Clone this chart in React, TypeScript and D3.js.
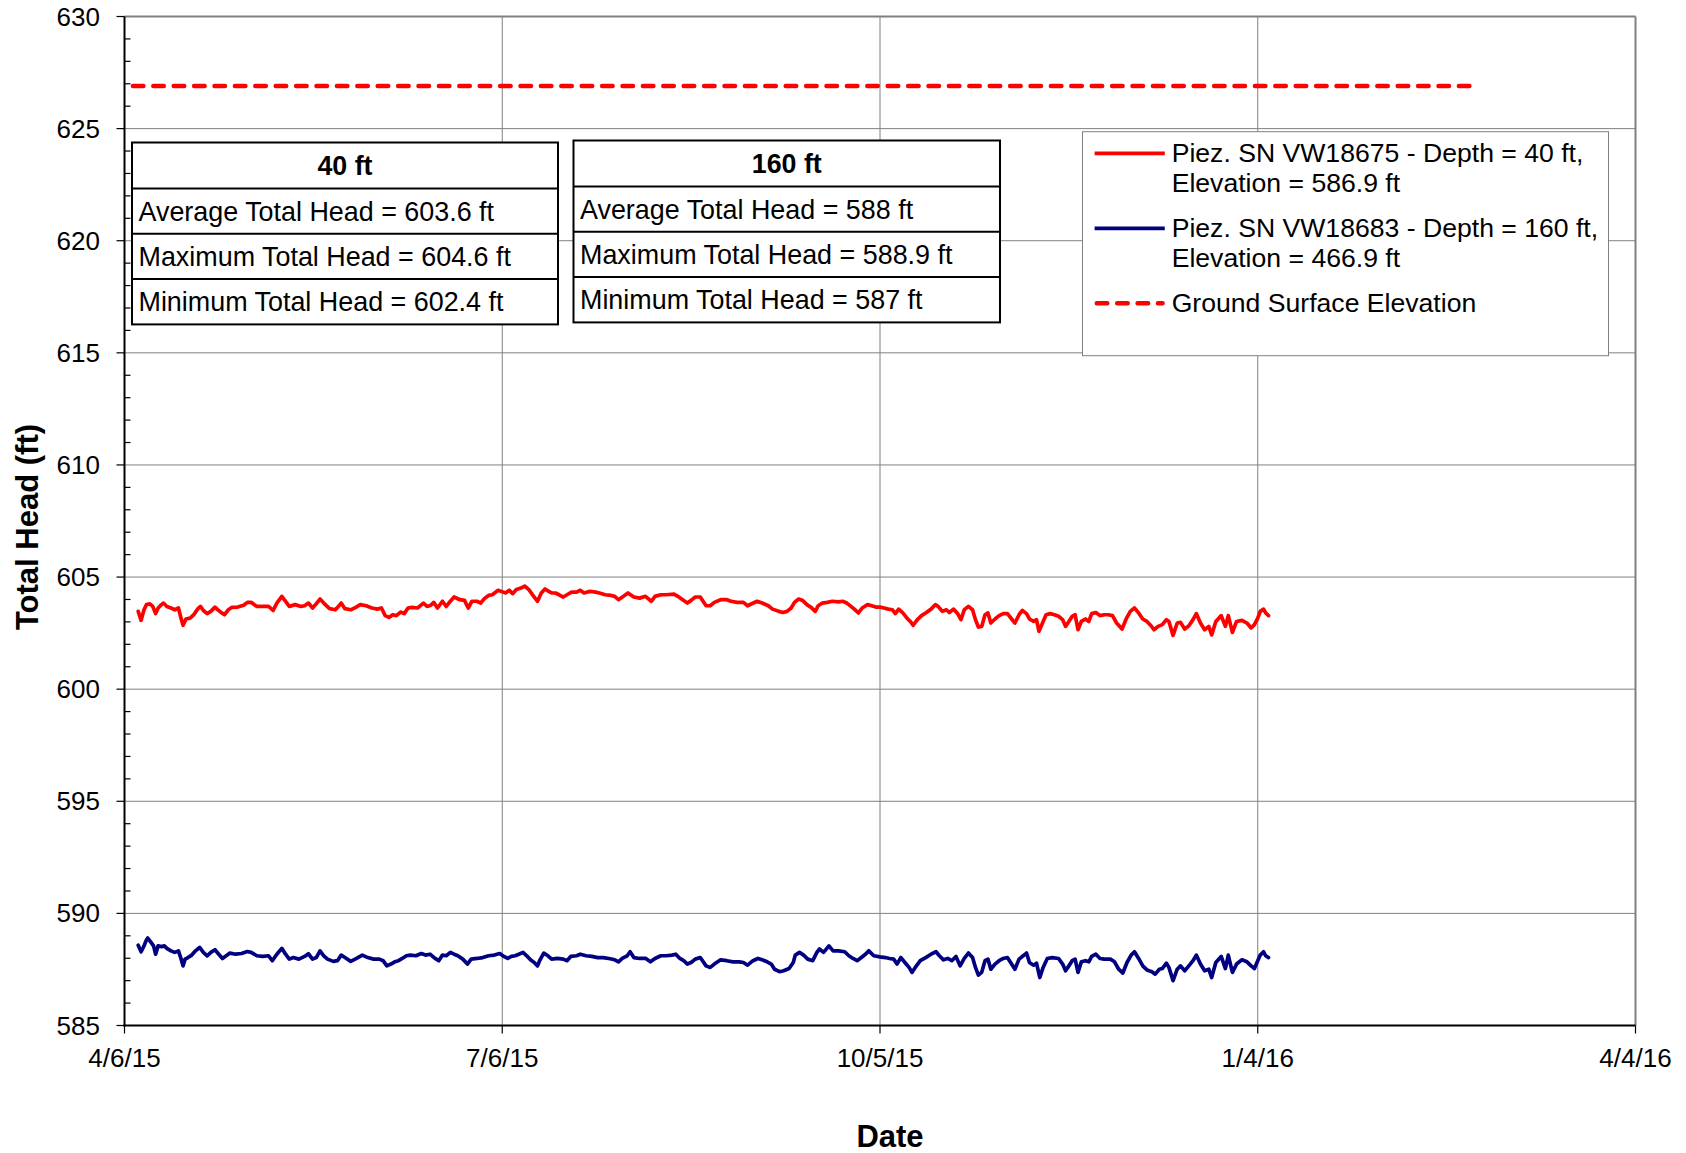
import React from "react";
import * as d3 from "d3";

// ---- axis definitions ----
const AXIS_START = "2015-04-06";
const AXIS_END = "2016-04-04";
const xTickDates = ["2015-04-06", "2015-07-06", "2015-10-05", "2016-01-04", "2016-04-04"];
const xTickLabels = ["4/6/15", "7/6/15", "10/5/15", "1/4/16", "4/4/16"];
const yMin = 585;
const yMax = 630;
const yMajorStep = 5;
const yMinorStep = 1;

// ---- ground surface reference ----
const groundElevation = 626.9;
const groundDates = ["2015-04-06", "2016-02-26"];

// ---- piezometer readings: [days since 4/6/15, total head (ft)] ----
const shallowReadings: [number, number][] = [
  [3.3,603.47],[4.0,603.07],[4.7,603.54],[5.3,603.77],[6.1,603.81],[6.8,603.69],[7.5,603.37],[8.1,603.62],[8.9,603.77],[9.4,603.84],
  [10.2,603.69],[11.2,603.62],[12.1,603.54],[13.0,603.62],[13.6,603.17],[14.1,602.85],[14.8,603.13],[15.8,603.17],[16.7,603.32],[17.6,603.57],
  [18.3,603.69],[19.0,603.51],[19.9,603.37],[20.8,603.47],[21.8,603.66],[22.5,603.54],[23.4,603.40],[24.1,603.32],[25.0,603.54],[25.9,603.65],
  [27.3,603.66],[28.7,603.74],[29.6,603.87],[30.5,603.87],[31.9,603.69],[33.3,603.69],[34.7,603.69],[35.8,603.51],[36.7,603.84],[37.9,604.14],
  [38.8,603.92],[39.7,603.69],[41.1,603.77],[42.5,603.69],[43.4,603.72],[44.3,603.84],[45.3,603.62],[46.2,603.81],[47.1,604.02],[48.0,603.84],
  [49.4,603.59],[50.8,603.54],[51.4,603.66],[52.2,603.84],[53.1,603.59],[54.5,603.54],[55.7,603.65],[56.8,603.77],[58.2,603.72],[59.6,603.62],
  [60.9,603.57],[61.9,603.62],[62.8,603.28],[63.7,603.20],[64.6,603.32],[65.5,603.28],[66.5,603.44],[67.4,603.37],[68.3,603.62],[69.2,603.65],
  [70.6,603.62],[72.0,603.84],[72.9,603.69],[73.8,603.74],[74.5,603.87],[75.4,603.62],[76.6,603.92],[77.5,603.69],[78.5,603.92],[79.4,604.11],
  [80.8,603.99],[81.9,603.96],[82.8,603.62],[83.7,603.92],[84.9,603.92],[85.8,603.84],[86.8,604.06],[87.7,604.18],[88.6,604.21],[90.0,604.41],
  [90.9,604.35],[91.8,604.29],[92.7,604.41],[93.5,604.26],[94.4,604.44],[95.5,604.51],[96.4,604.6],[97.4,604.44],[98.3,604.21],[99.5,603.92],
  [100.4,604.29],[101.3,604.47],[102.2,604.36],[102.9,604.29],[103.8,604.29],[104.7,604.21],[105.7,604.11],[106.6,604.21],[107.7,604.33],[108.9,604.33],
  [109.8,604.41],[110.7,604.29],[112.1,604.36],[113.5,604.33],[114.4,604.29],[115.8,604.21],[117.2,604.18],[118.1,604.14],[119.0,603.99],[120.2,604.14],
  [121.3,604.29],[122.7,604.11],[124.1,604.06],[125.5,604.14],[126.9,603.92],[127.8,604.14],[129.2,604.21],[130.5,604.21],[132.4,604.24],[133.3,604.14],
  [134.2,604.02],[135.6,603.84],[136.5,603.96],[137.5,604.11],[138.7,604.11],[140.1,603.72],[141.1,603.72],[142.1,603.87],[143.6,603.99],[145.1,603.99],
  [146.1,603.92],[147.6,603.87],[149.1,603.87],[150.1,603.72],[151.1,603.81],[152.4,603.92],[153.6,603.84],[155.1,603.72],[156.1,603.57],[157.6,603.47],
  [158.6,603.42],[159.6,603.47],[160.6,603.62],[161.4,603.87],[162.4,604.02],[163.4,603.95],[164.4,603.77],[165.4,603.65],[166.4,603.47],[167.1,603.72],
  [168.1,603.84],[169.3,603.87],[170.5,603.92],[172.0,603.89],[173.0,603.92],[174.0,603.84],[175.0,603.69],[176.0,603.54],[176.8,603.40],[177.7,603.62],
  [179.0,603.77],[180.0,603.72],[181.0,603.66],[182.0,603.66],[183.0,603.62],[184.0,603.57],[185.0,603.54],[185.7,603.37],[186.5,603.57],[187.5,603.40],
  [188.5,603.17],[189.3,603.02],[190.0,602.85],[191.0,603.10],[192.0,603.28],[193.0,603.40],[194.3,603.57],[195.3,603.77],[196.0,603.69],[197.0,603.47],
  [198.0,603.54],[198.7,603.42],[199.7,603.57],[200.7,603.37],[201.5,603.10],[202.3,603.54],[203.3,603.69],[204.3,603.54],[205.0,603.10],[205.7,602.77],
  [206.5,602.80],[207.3,603.32],[208.0,603.40],[208.7,602.95],[209.7,603.13],[210.7,603.28],[211.7,603.37],[212.7,603.37],[213.7,603.13],[214.5,602.95],
  [215.5,603.32],[216.3,603.51],[217.3,603.37],[218.0,603.13],[219.0,603.02],[219.7,603.10],[220.3,602.58],[221.0,602.88],[222.0,603.32],[223.0,603.37],
  [224.0,603.32],[225.0,603.25],[226.0,603.10],[226.7,602.80],[227.5,603.02],[228.3,603.25],[229.0,603.32],[229.7,602.65],[230.5,603.02],[231.5,603.13],
  [232.3,603.02],[233.0,603.37],[234.0,603.42],[235.0,603.28],[236.0,603.32],[237.0,603.32],[238.0,603.28],[239.0,602.95],[240.3,602.68],[241.3,603.13],
  [242.3,603.47],[243.3,603.62],[244.3,603.40],[245.3,603.13],[246.3,603.02],[247.3,602.83],[248.0,602.65],[249.0,602.80],[250.0,602.88],[251.0,603.10],
  [251.6,603.02],[252.6,602.4],[253.6,602.95],[254.4,602.98],[255.4,602.68],[256.4,602.83],[257.4,603.10],[258.2,603.37],[259.2,602.95],[260.2,602.65],
  [261.2,602.80],[261.9,602.42],[262.9,603.02],[264.2,603.28],[265.2,602.80],[265.9,603.28],[266.9,602.53],[267.9,603.02],[269.2,603.07],[270.4,602.95],
  [271.4,602.73],[272.2,602.88],[273.0,603.17],[273.6,603.47],[274.4,603.57],[274.9,603.40],[275.6,603.28],
];

const deepReadings: [number, number][] = [
  [3.3,588.58],[4.0,588.29],[4.7,588.55],[5.2,588.78],[5.6,588.9],[6.3,588.73],[7.0,588.55],[7.5,588.18],[8.1,588.55],[8.9,588.52],
  [9.6,588.55],[10.2,588.44],[11.2,588.33],[12.1,588.26],[13.0,588.33],[13.6,587.99],[14.1,587.66],[14.6,587.96],[15.3,588.03],[16.2,588.14],
  [17.1,588.33],[18.1,588.48],[19.0,588.26],[19.9,588.11],[20.8,588.26],[21.8,588.38],[22.7,588.18],[23.6,587.99],[24.5,588.11],[25.4,588.23],
  [26.8,588.18],[28.2,588.21],[29.6,588.30],[30.5,588.26],[31.9,588.11],[33.3,588.08],[34.7,588.11],[35.6,587.89],[36.7,588.18],[37.9,588.44],
  [38.8,588.18],[39.7,587.96],[40.7,588.03],[42.0,587.96],[43.4,588.08],[44.3,588.20],[45.3,587.96],[46.2,588.03],[47.1,588.33],[48.0,588.11],
  [48.9,587.96],[50.3,587.86],[51.3,587.89],[52.2,588.14],[53.1,588.03],[54.5,587.86],[55.9,587.99],[57.3,588.14],[58.6,588.03],[60.0,587.96],
  [61.4,587.96],[62.3,587.89],[63.2,587.66],[64.2,587.74],[65.1,587.84],[66.0,587.89],[66.9,587.99],[67.9,588.11],[68.8,588.14],[70.2,588.11],
  [71.5,588.21],[72.5,588.14],[73.6,588.18],[74.8,587.99],[75.7,587.89],[76.6,588.14],[77.5,588.11],[78.5,588.26],[79.4,588.18],[80.3,588.11],
  [81.5,587.96],[82.6,587.74],[83.5,587.96],[84.9,587.99],[86.3,588.03],[87.7,588.11],[89.1,588.14],[90.4,588.21],[91.4,588.08],[92.3,587.99],
  [93.2,588.08],[94.1,588.11],[95.0,588.18],[96.0,588.26],[96.9,588.11],[97.8,587.93],[98.7,587.81],[99.5,587.66],[100.1,587.93],[101.0,588.23],
  [102.0,588.11],[102.9,587.96],[104.3,587.99],[105.7,587.96],[106.6,587.89],[107.5,588.08],[108.9,588.11],[109.8,588.18],[111.2,588.11],[112.6,588.08],
  [114.0,588.03],[115.3,588.03],[116.7,587.99],[118.1,587.93],[119.0,587.84],[119.9,587.99],[121.1,588.11],[121.8,588.29],[122.7,588.03],[124.1,587.99],
  [125.5,588.00],[126.7,587.84],[127.8,587.99],[129.2,588.11],[130.5,588.11],[131.9,588.14],[132.8,588.18],[133.8,587.99],[134.7,587.89],[135.6,587.74],
  [136.5,587.81],[137.5,587.96],[138.7,588.03],[140.1,587.66],[141.1,587.59],[142.1,587.74],[143.6,587.93],[145.1,587.89],[146.6,587.84],[148.1,587.84],
  [149.1,587.81],[150.1,587.69],[151.4,587.89],[152.6,587.99],[153.6,587.93],[154.8,587.84],[155.8,587.74],[156.6,587.51],[157.8,587.40],[158.8,587.44],
  [160.1,587.54],[161.1,587.81],[161.6,588.14],[162.6,588.26],[163.6,588.14],[164.6,587.96],[165.8,587.89],[166.8,588.26],[167.4,588.41],[168.4,588.26],
  [169.7,588.55],[170.7,588.33],[172.0,588.33],[173.5,588.29],[174.5,588.11],[175.5,587.99],[176.5,587.89],[177.5,588.03],[178.5,588.18],[179.3,588.33],
  [180.5,588.11],[182.0,588.06],[183.3,588.03],[184.3,587.99],[185.3,587.96],[186.1,587.74],[187.0,588.03],[188.0,587.81],[189.0,587.59],[189.7,587.37],
  [190.5,587.59],[191.7,587.89],[193.0,588.03],[194.3,588.18],[195.5,588.29],[196.3,588.11],[197.3,587.93],[198.3,587.99],[199.3,587.89],[200.3,588.08],
  [201.3,587.66],[202.3,587.99],[203.3,588.23],[204.3,588.03],[205.0,587.59],[205.7,587.25],[206.5,587.37],[207.3,587.89],[208.0,587.96],[208.7,587.51],
  [209.7,587.74],[210.7,587.89],[211.7,587.99],[212.7,588.03],[213.7,587.74],[214.5,587.51],[215.5,587.96],[216.5,588.11],[217.3,588.23],[218.0,587.81],
  [219.0,587.69],[219.7,587.78],[220.5,587.14],[221.3,587.59],[222.3,587.99],[223.5,588.03],[225.0,587.99],[226.0,587.74],[226.7,587.44],[227.5,587.66],
  [228.3,587.89],[229.0,587.96],[229.7,587.37],[230.5,587.84],[231.5,587.89],[232.3,587.84],[233.0,588.08],[234.0,588.18],[235.0,587.99],[236.0,587.96],
  [237.5,587.96],[238.5,587.84],[239.5,587.51],[240.5,587.34],[241.5,587.81],[242.5,588.14],[243.3,588.29],[244.3,587.99],[245.3,587.66],[246.3,587.48],
  [247.5,587.40],[248.3,587.29],[249.3,587.51],[250.0,587.54],[251.0,587.78],[251.6,587.59],[252.6,587.0],[253.6,587.51],[254.4,587.66],[255.4,587.44],
  [256.4,587.66],[257.4,587.89],[258.2,588.14],[259.2,587.74],[260.2,587.44],[261.2,587.51],[261.9,587.14],[262.9,587.81],[264.2,588.08],[265.2,587.54],
  [265.9,588.14],[266.9,587.37],[267.9,587.74],[269.2,587.93],[270.4,587.84],[271.4,587.66],[272.2,587.54],[273.0,587.89],[273.6,588.14],[274.4,588.29],
  [274.9,588.11],[275.6,588.03],
];

// ---- summary tables ----
const tableTitles = ["40 ft", "160 ft"];
const averageHeads = [603.6, 588];
const maximumHeads = [604.6, 588.9];
const minimumHeads = [602.4, 587];

// ---- legend ----
const legendLabels = [
  ["Piez. SN VW18675 - Depth = 40 ft,", "Elevation = 586.9 ft"],
  ["Piez. SN VW18683 - Depth = 160 ft,", "Elevation = 466.9 ft"],
  ["Ground Surface Elevation"],
];

const SHALLOW_COLOR = "#ff0000";
const DEEP_COLOR = "#000080";
const GROUND_COLOR = "#ff0000";
const GRID_COLOR = "#808080";
const FONT = "'Liberation Sans', Arial, Helvetica, sans-serif";
const SERIES_WIDTH = 3.7;

const W = 1686;
const H = 1153;
const PLOT = { left: 124.5, right: 1635.5, top: 16.5, bottom: 1025.5 };

export default function App() {
  const parse = d3.utcParse("%Y-%m-%d");
  const origin = parse(AXIS_START) as Date;
  const x = d3
    .scaleUtc()
    .domain([origin, parse(AXIS_END) as Date])
    .range([PLOT.left, PLOT.right]);
  const y = d3.scaleLinear().domain([yMin, yMax]).range([PLOT.bottom, PLOT.top]);

  const dayToDate = (d: number) => new Date(origin.getTime() + d * 86400000);
  const seriesLine = d3
    .line<[number, number]>()
    .x((d) => x(dayToDate(d[0])))
    .y((d) => y(d[1]));

  const yMajor = d3.range(yMin, yMax + 0.001, yMajorStep);
  const yMinor = d3.range(yMin, yMax + 0.001, yMinorStep).filter((v) => v % yMajorStep !== 0);
  const xTicks = xTickDates.map((s) => parse(s) as Date);

  const groundPts = groundDates.map((s) => [x(parse(s) as Date), y(groundElevation)]);

  const tables = [
    { x: 132, y: 142.5, w: 426 },
    { x: 573.5, y: 140.5, w: 426.5 },
  ];
  const headerH = 46;
  const rowH = 45.3;
  const fmt = (v: number) => `${v}`;

  const legendBox = { x: 1082.5, y: 131.7, w: 526, h: 224 };
  const legendStyles = [
    { color: SHALLOW_COLOR, dash: undefined as string | undefined },
    { color: DEEP_COLOR, dash: undefined as string | undefined },
    { color: GROUND_COLOR, dash: "10.5 9.9" },
  ];

  return (
    <svg
      width={W}
      height={H}
      viewBox={`0 0 ${W} ${H}`}
      style={{ position: "absolute", left: 0, top: 0, background: "#fff" }}
      fontFamily={FONT}
    >
      <rect x={0} y={0} width={W} height={H} fill="#fff" />

      {/* gridlines */}
      <g stroke={GRID_COLOR} strokeWidth={1}>
        {yMajor
          .filter((v) => v !== yMin && v !== yMax)
          .map((v) => (
            <line key={`hg${v}`} x1={PLOT.left} x2={PLOT.right} y1={y(v)} y2={y(v)} />
          ))}
        {xTicks.slice(1, -1).map((d, i) => (
          <line key={`vg${i}`} x1={x(d)} x2={x(d)} y1={PLOT.top} y2={PLOT.bottom} />
        ))}
      </g>

      {/* plot frame (top and right) */}
      <line x1={PLOT.left} x2={PLOT.right} y1={PLOT.top} y2={PLOT.top} stroke={GRID_COLOR} strokeWidth={2} />
      <line x1={PLOT.right} x2={PLOT.right} y1={PLOT.top} y2={PLOT.bottom} stroke={GRID_COLOR} strokeWidth={2} />

      {/* ground surface elevation */}
      <line
        x1={groundPts[0][0]}
        x2={groundPts[1][0]}
        y1={groundPts[0][1]}
        y2={groundPts[1][1]}
        stroke={GROUND_COLOR}
        strokeWidth={4.5}
        strokeDasharray="10.5 9.9"
        strokeDashoffset={12}
        strokeLinecap="round"
      />

      {/* piezometer series */}
      <path
        d={seriesLine(shallowReadings) ?? ""}
        fill="none"
        stroke={SHALLOW_COLOR}
        strokeWidth={SERIES_WIDTH}
        strokeLinejoin="round"
        strokeLinecap="round"
      />
      <path
        d={seriesLine(deepReadings) ?? ""}
        fill="none"
        stroke={DEEP_COLOR}
        strokeWidth={SERIES_WIDTH}
        strokeLinejoin="round"
        strokeLinecap="round"
      />

      {/* summary tables */}
      {tables.map((t, i) => {
        const rows = [
          `Average Total Head = ${fmt(averageHeads[i])} ft`,
          `Maximum Total Head = ${fmt(maximumHeads[i])} ft`,
          `Minimum Total Head = ${fmt(minimumHeads[i])} ft`,
        ];
        const totalH = headerH + rowH * rows.length;
        return (
          <g key={`tbl${i}`}>
            <rect x={t.x} y={t.y} width={t.w} height={totalH} fill="#fff" stroke="#000" strokeWidth={2} />
            {rows.map((_, r) => (
              <line
                key={`sep${r}`}
                x1={t.x}
                x2={t.x + t.w}
                y1={t.y + headerH + rowH * r}
                y2={t.y + headerH + rowH * r}
                stroke="#000"
                strokeWidth={2}
              />
            ))}
            <text
              x={t.x + t.w / 2}
              y={t.y + 32.5}
              textAnchor="middle"
              fontSize={26.8}
              fontWeight="bold"
              fill="#000"
            >
              {tableTitles[i]}
            </text>
            {rows.map((label, r) => (
              <text
                key={`row${r}`}
                x={t.x + 6.5}
                y={t.y + headerH + rowH * r + 32.3}
                fontSize={26.9}
                fill="#000"
              >
                {label}
              </text>
            ))}
          </g>
        );
      })}

      {/* legend */}
      <g>
        <rect
          x={legendBox.x}
          y={legendBox.y}
          width={legendBox.w}
          height={legendBox.h}
          fill="#fff"
          stroke={GRID_COLOR}
          strokeWidth={1}
        />
        {legendLabels.map((lines, i) => {
          const baseline = legendBox.y + 30.6 + i * 75;
          const st = legendStyles[i];
          return (
            <g key={`leg${i}`}>
              <line
                x1={st.dash ? 1096.8 : 1094.6}
                x2={st.dash ? 1162.6 : 1164.8}
                y1={baseline - 9}
                y2={baseline - 9}
                stroke={st.color}
                strokeWidth={st.dash ? 4.5 : SERIES_WIDTH}
                strokeDasharray={st.dash}
                strokeLinecap={st.dash ? "round" : "butt"}
              />
              {lines.map((txt, k) => (
                <text key={k} x={1171.7} y={baseline + k * 30} fontSize={26.6} fill="#000">
                  {txt}
                </text>
              ))}
            </g>
          );
        })}
      </g>

      {/* axes */}
      <line x1={PLOT.left} x2={PLOT.left} y1={PLOT.top} y2={PLOT.bottom + 1} stroke="#000" strokeWidth={2} />
      <line x1={PLOT.left - 1} x2={PLOT.right} y1={PLOT.bottom} y2={PLOT.bottom} stroke="#000" strokeWidth={2} />

      <g stroke="#000" strokeWidth={1.2}>
        {yMajor.map((v) => (
          <line key={`ymaj${v}`} x1={PLOT.left - 8} x2={PLOT.left} y1={y(v)} y2={y(v)} />
        ))}
        {yMinor.map((v) => (
          <line key={`ymin${v}`} x1={PLOT.left} x2={PLOT.left + 6} y1={y(v)} y2={y(v)} />
        ))}
        {xTicks.map((d, i) => (
          <line key={`xt${i}`} x1={x(d)} x2={x(d)} y1={PLOT.bottom} y2={PLOT.bottom + 8} />
        ))}
      </g>

      <g fontSize={26} fill="#000">
        {yMajor.map((v) => (
          <text key={`yl${v}`} x={100} y={y(v) + 9} textAnchor="end">
            {v}
          </text>
        ))}
        {xTicks.map((d, i) => (
          <text key={`xl${i}`} x={x(d)} y={1067.3} textAnchor="middle">
            {xTickLabels[i]}
          </text>
        ))}
      </g>

      {/* axis titles */}
      <text
        transform={`translate(37.5, 527) rotate(-90)`}
        textAnchor="middle"
        fontSize={31}
        fontWeight="bold"
        fill="#000"
      >
        Total Head (ft)
      </text>
      <text x={890} y={1146.5} textAnchor="middle" fontSize={31} fontWeight="bold" fill="#000">
        Date
      </text>
    </svg>
  );
}
